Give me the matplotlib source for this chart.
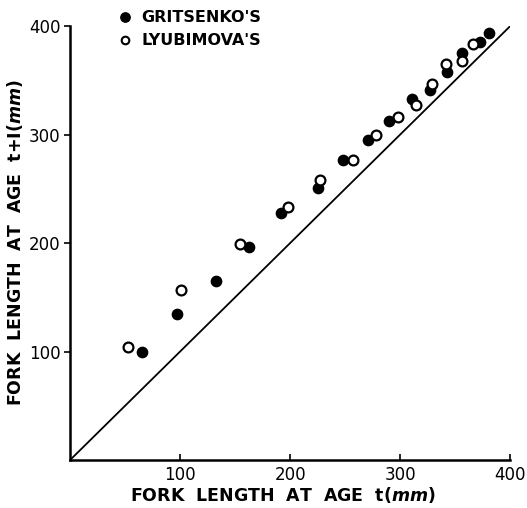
import numpy as np
import matplotlib
matplotlib.use("Agg")
import matplotlib.pyplot as plt

# Fork length at age t vs. at age t+1 (mm)
gritsenko_x = [65, 97.5, 133, 163, 192, 225, 248, 271, 290, 311, 327, 343, 356, 373, 381]
gritsenko_y = [100, 135, 165, 196, 228, 251, 277, 295, 313, 333, 341, 358, 375, 385, 394]

lyubimova_x = [53, 100.6, 154.5, 198.5, 227, 257.5, 278, 298, 314, 329, 341.5, 356, 366]
lyubimova_y = [104, 157, 199, 233, 258, 277, 300, 316, 327, 347, 365, 368, 384]

ticks = [100, 200, 300, 400]

plt.rcParams["mathtext.fontset"] = "custom"
plt.rcParams["mathtext.it"] = "DejaVu Sans:italic:bold"

fig = plt.figure(figsize=(5.27, 5.08), dpi=100)
ax = fig.add_axes([0.133, 0.0945, 0.835, 0.854])

# 1:1 line
ax.plot([0, 400], [0, 400], color="black", lw=1.3)

ax.scatter(gritsenko_x, gritsenko_y, s=55, color="black", zorder=3)
ax.scatter(lyubimova_x, lyubimova_y, s=50, facecolor="white",
           edgecolor="black", linewidth=1.6, zorder=3)

ax.set_xlim(0, 400)
ax.set_ylim(0, 400)
ax.set_xticks(ticks)
ax.set_yticks(ticks)
for side in ["top", "right"]:
    ax.spines[side].set_visible(False)
for side in ["left", "bottom"]:
    ax.spines[side].set_linewidth(1.8)
ax.tick_params(axis="x", direction="in", length=4, width=1.2, labelsize=12, pad=4)
ax.tick_params(axis="y", direction="out", length=4, width=1.2, labelsize=12, pad=3)

lab_kw = dict(fontsize=12.5, fontweight="bold")
fig.text(0.537, 0.025, r"FORK  LENGTH  AT  AGE  t($mm$)", ha="center",
         va="center", **lab_kw)
ax.set_ylabel(r"FORK  LENGTH  AT  AGE  t+I($mm$)", labelpad=3, **lab_kw)

# legend drawn by hand like the original lettering
ax.scatter([50], [408], s=45, color="black", clip_on=False)
ax.scatter([50], [387], s=30, facecolor="white", edgecolor="black",
           linewidth=1.5, clip_on=False)
ax.text(65, 408, "GRITSENKO'S", va="center", fontsize=11.5, fontweight="bold")
ax.text(65, 387, "LYUBIMOVA'S", va="center", fontsize=11.5, fontweight="bold")

fig.savefig("out.png", dpi=100)
